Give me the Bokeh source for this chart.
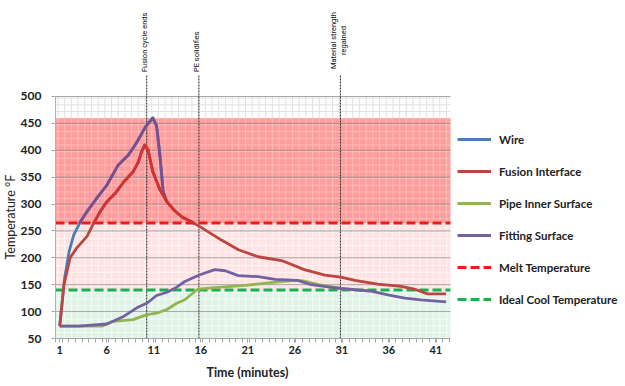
import numpy as np
from bokeh.plotting import figure
from bokeh.models import Range1d, FixedTicker, Legend, LegendItem, Title
from bokeh.core.properties import value
from bokeh.embed import file_html
from bokeh.resources import INLINE

# ---------------- data ----------------
WIRE_T = [1, 1.5, 2.0, 2.5, 3.2, 3.9, 4.9, 6.0, 7.2, 8.3, 9.2, 10.1, 10.9, 11.3, 11.65, 12.0, 12.4]
WIRE_Y = [73, 160, 212, 243, 267, 286, 310, 335, 372, 391, 415, 443, 460, 446, 391, 323, 304]

FUSION_T = [1, 1.45, 2.1, 2.8, 3.9, 4.6, 5.3, 6.0, 6.9, 7.8, 8.8, 9.35, 9.7, 10.05, 10.4, 10.9,
            11.6, 12.4, 13.2, 14.0, 15.0, 15.9, 18.2, 20.0, 22.1, 24.6, 27.0, 29.2, 30.9, 32.4,
            34.8, 37.3, 38.7, 40.1, 42.1]
FUSION_Y = [73, 150, 200, 218, 240, 264, 286, 304, 320, 341, 360, 378, 397, 410, 400, 360,
            329, 304, 288, 276, 267, 258, 233, 215, 202, 195, 178, 168, 164, 158,
            151, 147, 142, 133, 133]

PIPE_T = [1, 5.5, 6.7, 8.8, 10.2, 11.3, 12.4, 13.4, 14.3, 15.7, 18.2, 20.7, 23.5, 26.0, 26.9,
          28.5, 30.9, 32.7, 34.0]
PIPE_Y = [73, 73, 82, 85, 94, 97, 104, 115, 122, 142, 145.7, 148.7, 154, 158, 157,
          150, 143, 140, 138]

FIT_T = [1, 3, 6.0, 7.8, 9.2, 10.3, 11.3, 12.4, 13.4, 14.3, 15.9, 17.5, 18.6, 20.0, 22.1, 23.9,
         26.3, 27.75, 29.5, 30.9, 34.1, 35.9, 37.7, 39.4, 42.1]
FIT_Y = [73, 73, 77, 91, 107, 116, 130, 136, 145, 156, 168.5, 178, 176, 167, 165, 160,
         158, 150, 146, 143, 138, 131, 125, 122, 118]

MELT_TEMP = 265
COOL_TEMP = 140

ZONE_LOW = [50, 140, 265]
ZONE_HIGH = [140, 265, 460]
ZONE_FILL = ["#E1F3E6", "#FFE3E3", "#FF9C9C"]
ZONE_HATCH = ["#F3FBF5", "#FFF4F4", "#FFBBBB"]

EVENT_T = [10.25, 15.8, 30.85]
EVENT_TEXT = ["Fusion cycle ends", "PE solidifies", "Material strength\nregained"]

X_TICKS = [1, 6, 11, 16, 21, 26, 31, 36, 41]
Y_TICKS = [50, 100, 150, 200, 250, 300, 350, 400, 450, 500]

X_START, X_END = 0.55, 42.55
X_FRAME_END = 61.17    # frame continues right of the plot area to hold the legend
Y_MIN, Y_MAX = 50, 500
Y_TOP = 678.5          # frame continues above the plot area to hold the event notes
NOTE_BASE = 545.5
NOTE_MID = 604
EVENT_LINE_TOP = 539

FONT = "Lato"

p = figure(width=625, height=386, output_backend="svg", toolbar_location=None,
           x_range=Range1d(X_START, X_FRAME_END), y_range=Range1d(Y_MIN, Y_TOP),
           min_border_left=54, min_border_right=0, min_border_top=0, min_border_bottom=48,
           outline_line_color=None, background_fill_color="white", border_fill_color="white")

# plot area background with its fine grid pattern
p.quad(left=[X_START], right=[X_END], bottom=[Y_MIN], top=[Y_MAX],
       fill_color="white", line_color=None,
       hatch_pattern="+", hatch_color="#E0E0E0", hatch_scale=6.7, hatch_weight=1)
p.quad(left=[X_START] * 3, right=[X_END] * 3, bottom=ZONE_LOW, top=ZONE_HIGH,
       fill_color=ZONE_FILL, line_color=None,
       hatch_pattern="+", hatch_color=ZONE_HATCH, hatch_scale=6.7, hatch_weight=1)

p.xgrid.grid_line_color = None
p.ygrid.grid_line_color = None
GRID_Y = Y_TICKS[1:]
p.segment(x0=[X_START] * len(GRID_Y), y0=GRID_Y, x1=[X_END] * len(GRID_Y), y1=GRID_Y,
          line_color="#8A8A8A", line_alpha=0.75, line_width=1)

# event markers and notes
p.segment(x0=EVENT_T, y0=[Y_MIN] * 3, x1=EVENT_T, y1=[EVENT_LINE_TOP] * 3,
          line_color="#222222", line_width=1, line_dash="2 1")
p.text(x=EVENT_T[:2], y=[NOTE_BASE] * 2, text=EVENT_TEXT[:2], angle=np.pi / 2,
       text_align="left", text_baseline="middle", x_offset=-2,
       text_font=value("Roboto"), text_font_size="7.5px", text_color="#111111")
p.text(x=EVENT_T[2:], y=[NOTE_MID], text=EVENT_TEXT[2:], angle=np.pi / 2,
       text_align="center", text_baseline="middle", x_offset=-2, text_line_height=1.15,
       text_font=value("Roboto"), text_font_size="7.5px", text_color="#111111")

# reference temperatures
r_melt = p.line(x=[X_START, X_END], y=[MELT_TEMP] * 2, line_color="#F01A1A",
                line_width=3, line_dash="9 4")
r_cool = p.line(x=[X_START, X_END], y=[COOL_TEMP] * 2, line_color="#1BAF4E",
                line_width=3, line_dash="9 4")


def part_above(t, y, thr):
    x0, y0, x1, y1 = [], [], [], []
    for i in range(len(t) - 1):
        ta, tb, ya, yb = t[i], t[i + 1], y[i], y[i + 1]
        if ya < thr and yb < thr:
            continue
        if ya < thr <= yb:
            ta = ta + (thr - ya) / (yb - ya) * (tb - ta)
            ya = thr
        elif yb < thr <= ya:
            tb = ta + (thr - ya) / (yb - ya) * (tb - ta)
            yb = thr
        x0.append(ta); y0.append(ya); x1.append(tb); y1.append(yb)
    return x0, y0, x1, y1


LW = 2.8
r_wire = p.line(WIRE_T, WIRE_Y, line_color="#4A7EBB", line_width=LW)
wx0, wy0, wx1, wy1 = part_above(WIRE_T, WIRE_Y, MELT_TEMP)
p.segment(x0=wx0, y0=wy0, x1=wx1, y1=wy1, line_color="#7B4F8E", line_width=LW, line_cap="round")

r_pipe = p.line(PIPE_T, PIPE_Y, line_color="#92B552", line_width=LW)
r_fit = p.line(FIT_T, FIT_Y, line_color="#7461A0", line_width=LW)

r_fusion = p.line(FUSION_T, FUSION_Y, line_color="#BC4540", line_width=LW)
fx0, fy0, fx1, fy1 = part_above(FUSION_T, FUSION_Y, MELT_TEMP)
p.segment(x0=fx0, y0=fy0, x1=fx1, y1=fy1, line_color="#D23232", line_width=LW, line_cap="round")

# axes
xa = p.xaxis[0]
xa.ticker = FixedTicker(ticks=X_TICKS, minor_ticks=list(np.arange(X_START, X_END, 0.71)))
xa.bounds = (X_START, X_END)
xa.axis_line_color = "#A6A6A6"
xa.major_tick_line_color = "#A6A6A6"
xa.minor_tick_line_color = "#A6A6A6"
xa.major_tick_out = 4
xa.major_tick_in = 0
xa.minor_tick_out = 4
xa.minor_tick_in = 0
xa.major_label_standoff = 3
xa.major_label_text_font = FONT
xa.major_label_text_font_style = "bold"
xa.major_label_text_font_size = "11px"
xa.major_label_text_color = "#222222"

ya = p.yaxis[0]
ya.ticker = FixedTicker(ticks=Y_TICKS)
ya.bounds = (Y_MIN, Y_MAX)
ya.axis_line_color = "#B0B0B0"
ya.major_tick_line_color = "#A6A6A6"
ya.major_tick_out = 4
ya.major_tick_in = 0
ya.minor_tick_line_color = None
ya.major_label_standoff = 10
ya.major_label_text_font = FONT
ya.major_label_text_font_style = "bold"
ya.major_label_text_font_size = "12px"
ya.major_label_text_color = "#222222"

# axis titles, placed beside the plot area rather than the whole frame
p.add_layout(Title(text="Temperature °F", align="left", offset=79, standoff=0,
                   text_font=FONT, text_font_style="normal", text_font_size="12.5px",
                   text_color="#222222"), "left")
p.add_layout(Title(text="Time (minutes)", align="left", offset=151, standoff=12,
                   text_font=FONT, text_font_style="bold", text_font_size="12.5px",
                   text_color="#222222"), "below")

legend = Legend(items=[
    LegendItem(label="Wire", renderers=[r_wire]),
    LegendItem(label="Fusion Interface", renderers=[r_fusion]),
    LegendItem(label="Pipe Inner Surface", renderers=[r_pipe]),
    LegendItem(label="Fitting Surface", renderers=[r_fit]),
    LegendItem(label="Melt Temperature", renderers=[r_melt]),
    LegendItem(label="Ideal Cool Temperature", renderers=[r_cool]),
], location=(402, 29), orientation="vertical", glyph_width=34, glyph_height=20,
    label_height=20, spacing=12, padding=8, margin=0, label_standoff=8,
    background_fill_alpha=0, border_line_color=None,
    label_text_font=FONT, label_text_font_style="bold", label_text_font_size="11.5px",
    label_text_color="#222222")
p.add_layout(legend)

open("out.html", "w").write(file_html(p, INLINE))
